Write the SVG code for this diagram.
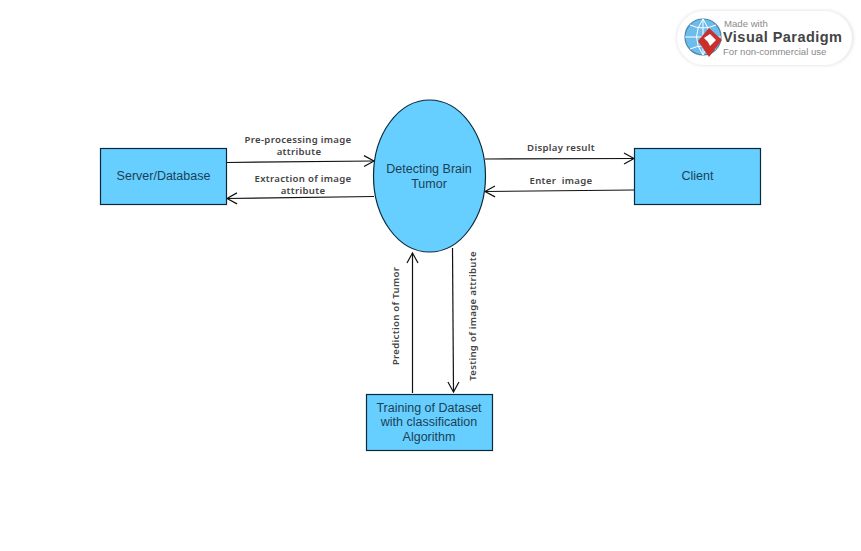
<svg xmlns="http://www.w3.org/2000/svg" width="861" height="551" viewBox="0 0 861 551">
<style>
.n{fill:#66cfff;stroke:#0a2a3a;stroke-width:1.2}
.t{font-family:"Liberation Sans",Arial,sans-serif;font-size:12.5px;fill:#1c3f55;text-anchor:middle}
.l{font-family:"Noto Sans","Open Sans",sans-serif;font-size:9.6px;font-weight:600;fill:#444;text-anchor:middle;letter-spacing:.3px;white-space:pre}
.c{stroke:#111;stroke-width:1.2;fill:none}
.logo{font-family:"Liberation Sans",Arial,sans-serif}
</style>
<defs>
<marker id="a" markerUnits="userSpaceOnUse" markerWidth="14" markerHeight="14" refX="11" refY="7" orient="auto"><path d="M1 1.5L11 7L1 12.500" fill="none" stroke="#111" stroke-width="1.2"/></marker>
<filter id="s" x="-10%" y="-20%" width="120%" height="140%"><feGaussianBlur stdDeviation="1.5"/></filter>
</defs>
<rect width="861" height="551" fill="#fff"/>
<g id="logo">
<rect x="676" y="10" width="178" height="56" rx="28" fill="#e8e8e8" filter="url(#s)"/>
<rect x="677" y="11" width="175" height="54" rx="27" fill="#fff"/>
<circle cx="703" cy="37" r="18" fill="#6dbdec" stroke="#4a86ad" stroke-width="1.2"/>
<path d="M685 37H721M703 19V55M690 25Q703 31 716 25M690 49Q703 43 716 49M703 19Q690 37 703 55M703 19Q716 37 703 55" fill="none" stroke="#fff" stroke-width="1"/>
<path d="M709 28L722 40L709 57L698 41Z" fill="#c9302c"/>
<path d="M704 38L710 34L716 40L710 46L708 42Z" fill="#fff"/>
<text class="logo" x="724" y="27" font-size="9.6px" fill="#8a8a8a">Made with</text>
<text class="logo" x="723" y="42" font-size="14.5px" font-weight="700" fill="#444" textLength="119">Visual Paradigm</text>
<text class="logo" x="723" y="55" font-size="9.6px" fill="#8a8a8a">For non-commercial use</text>
</g>
<g id="connectors">
<path class="c" d="M227 162.500L374 161" marker-end="url(#a)"/>
<path class="c" d="M374 196.500L227 198.500" marker-end="url(#a)"/>
<path class="c" d="M485 159L634 158.500" marker-end="url(#a)"/>
<path class="c" d="M634 190L485 191.500" marker-end="url(#a)"/>
<path class="c" d="M412.500 393V253" marker-end="url(#a)"/>
<path class="c" d="M452.500 248L453.500 392" marker-end="url(#a)"/>
<text class="l" x="298" y="143">Pre-processing image</text>
<text class="l" x="299" y="155">attribute</text>
<text class="l" x="303" y="182">Extraction of image</text>
<text class="l" x="303" y="194">attribute</text>
<text class="l" x="561" y="151">Display result</text>
<text class="l" x="561" y="184">Enter  image</text>
<text class="l" transform="translate(398.500 316) rotate(-90)">Prediction of Tumor</text>
<text class="l" transform="translate(476 316) rotate(-90)">Testing of image attribute</text>
</g>
<g id="server"><rect class="n" x="100.500" y="148.500" width="126" height="56"/><text class="t" x="163.500" y="180">Server/Database</text></g>
<g id="process"><ellipse class="n" cx="429.500" cy="176" rx="56" ry="76"/><text class="t" x="429" y="173">Detecting Brain</text><text class="t" x="429" y="188">Tumor</text></g>
<g id="client"><rect class="n" x="634.500" y="148.500" width="126" height="56"/><text class="t" x="697.500" y="180">Client</text></g>
<g id="training"><rect class="n" x="366.500" y="394.500" width="126" height="56"/><text class="t" x="429" y="412">Training of Dataset</text><text class="t" x="429" y="426">with classification</text><text class="t" x="429" y="441">Algorithm</text></g>
</svg>
